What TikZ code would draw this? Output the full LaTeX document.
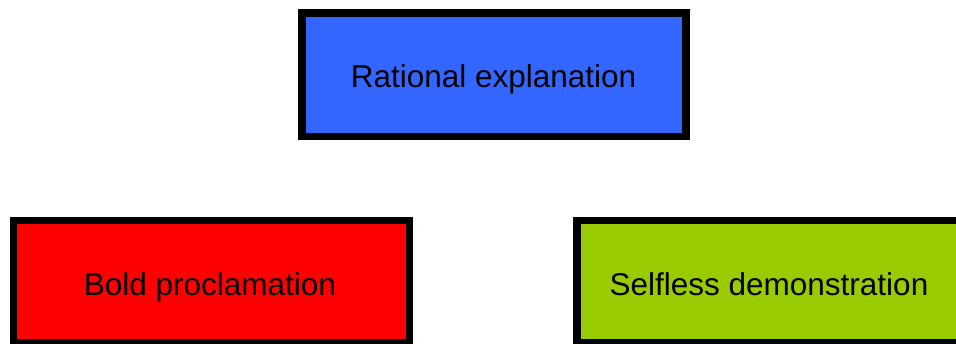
\documentclass[tikz,border=0pt]{standalone}
\usepackage{fontspec}
\setmainfont{Liberation Sans}
\definecolor{boxblue}{HTML}{3366FF}
\definecolor{boxred}{HTML}{FF0000}
\definecolor{boxgreen}{HTML}{99CC00}
\begin{document}
\begin{tikzpicture}[x=1pt,y=-1pt,
  panel/.style={draw=black,line width=7.5pt},
  caption/.style={anchor=base,inner sep=0pt,font=\fontsize{31.5}{36}\selectfont}]
\useasboundingbox (0,0) rectangle (956,343);
\clip (0,0) rectangle (956,343);
% three boxes
\draw[panel,fill=boxblue] (302,12.75) rectangle (686,136.25);
\draw[panel,fill=boxred] (13.5,220.5) rectangle (409.25,342.75);
\draw[panel,fill=boxgreen] (577,220.5) rectangle (975,342.75);
% labels
\node[caption] (rational) at (493.5,87) {Rational explanation};
\node[caption] (bold) at (210,295) {Bold proclamation};
\node[caption] (selfless) at (769,295) {Selfless demonstration};
\end{tikzpicture}
\end{document}
